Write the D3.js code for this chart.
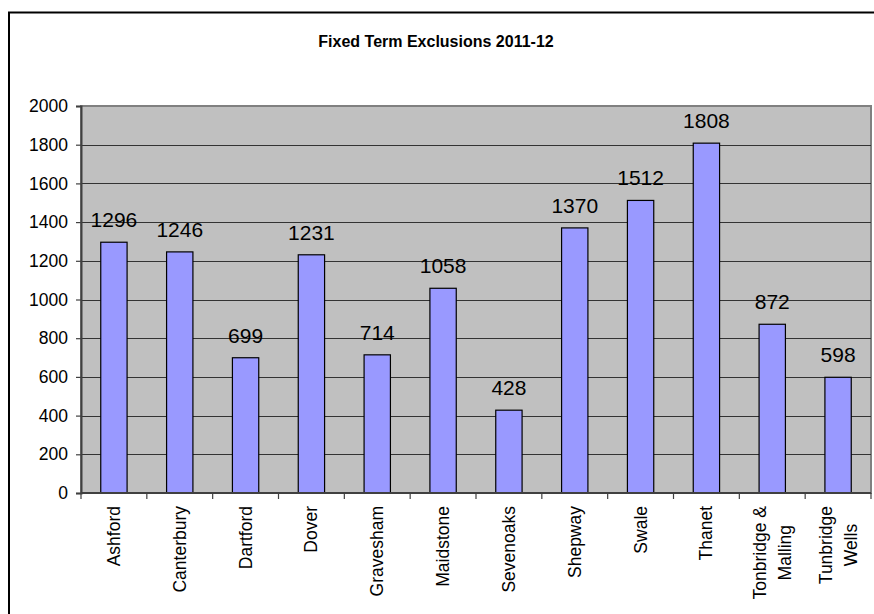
<!DOCTYPE html>
<html>
<head>
<meta charset="utf-8">
<script src="https://cdn.jsdelivr.net/npm/d3@7"></script>
<style>
  html, body { margin: 0; padding: 0; background: #fff; }
  svg { display: block; font-family: "Liberation Sans", Arial, sans-serif; }
</style>
</head>
<body>
<svg id="chart" width="874" height="614"></svg>
<script>
const title = "Fixed Term Exclusions 2011-12";
const categories = ["Ashford", "Canterbury", "Dartford", "Dover", "Gravesham", "Maidstone",
  "Sevenoaks", "Shepway", "Swale", "Thanet", "Tonbridge & Malling", "Tunbridge Wells"];
const categoryLines = [["Ashford"], ["Canterbury"], ["Dartford"], ["Dover"], ["Gravesham"], ["Maidstone"],
  ["Sevenoaks"], ["Shepway"], ["Swale"], ["Thanet"], ["Tonbridge &", "Malling"], ["Tunbridge", "Wells"]];
const values = [1296, 1246, 699, 1231, 714, 1058, 428, 1370, 1512, 1808, 872, 598];
const yTicks = [0, 200, 400, 600, 800, 1000, 1200, 1400, 1600, 1800, 2000];

const svg = d3.select("#chart");
const plot = { left: 81, right: 871, top: 106, bottom: 493 };

// outer frame
svg.append("rect").attr("x", 9).attr("y", 12.5).attr("width", 920).attr("height", 700)
  .attr("fill", "#fff").attr("stroke", "#000").attr("stroke-width", 2);

svg.append("text").attr("x", 436).attr("y", 47).attr("text-anchor", "middle")
  .attr("font-size", 16).attr("font-weight", "bold").text(title);

const x = d3.scaleBand().domain(categories).range([plot.left, plot.right]).paddingInner(0).paddingOuter(0);
const y = d3.scaleLinear().domain([0, 2000]).range([plot.bottom, plot.top]);

// plot background
svg.append("rect").attr("x", plot.left).attr("y", plot.top)
  .attr("width", plot.right - plot.left).attr("height", plot.bottom - plot.top)
  .attr("fill", "#c0c0c0").attr("stroke", "#808080").attr("stroke-width", 2);

// gridlines
svg.append("g").selectAll("line").data(yTicks.filter(d => d > 0 && d < 2000)).join("line")
  .attr("x1", plot.left).attr("x2", plot.right)
  .attr("y1", d => Math.round(y(d)) + 0.5).attr("y2", d => Math.round(y(d)) + 0.5)
  .attr("stroke", "#333").attr("stroke-width", 1);

// bars
const barW = x.bandwidth() * 0.4;
svg.append("g").selectAll("rect").data(values).join("rect")
  .attr("x", (d, i) => x(categories[i]) + (x.bandwidth() - barW) / 2)
  .attr("y", d => y(d))
  .attr("width", barW)
  .attr("height", d => y(0) - y(d))
  .attr("fill", "#9999ff").attr("stroke", "#000").attr("stroke-width", 1.2);

// data labels
svg.append("g").selectAll("text").data(values).join("text")
  .attr("x", (d, i) => x(categories[i]) + x.bandwidth() / 2)
  .attr("y", d => y(d) - 15)
  .attr("text-anchor", "middle").attr("font-size", 21).attr("fill", "#000")
  .text(d => d);

// y axis
const yAxis = d3.axisLeft(y).tickValues(yTicks).tickSize(5).tickPadding(8).tickFormat(d3.format("d"));
const gy = svg.append("g").attr("transform", `translate(${plot.left},0)`).call(yAxis);
gy.select(".domain").attr("stroke", "#404040").attr("stroke-width", 2);
gy.selectAll(".tick line").attr("stroke", "#404040").attr("stroke-width", 1.2);
gy.selectAll(".tick text").attr("font-size", 17.5).attr("font-family", "Liberation Sans, Arial, sans-serif").attr("fill", "#000");

// x axis (ticks at band boundaries)
const xb = svg.append("g");
xb.append("line").attr("x1", plot.left).attr("x2", plot.right).attr("y1", plot.bottom).attr("y2", plot.bottom)
  .attr("stroke", "#404040").attr("stroke-width", 2);
const boundaries = categories.map(c => x(c)).concat([plot.right]);
xb.selectAll("line.tk").data(boundaries).join("line").attr("class", "tk")
  .attr("x1", d => d).attr("x2", d => d).attr("y1", plot.bottom).attr("y2", plot.bottom + 6)
  .attr("stroke", "#404040").attr("stroke-width", 1.2);

// x labels rotated
const lineH = 25;
categoryLines.forEach((lines, i) => {
  const cx = x(categories[i]) + x.bandwidth() / 2;
  const g = svg.append("g");
  const texts = lines.map((ln, j) => g.append("text").attr("font-size", 17.5).attr("fill", "#000")
    .attr("text-anchor", "middle").text(ln));
  const maxLen = d3.max(texts, t => t.node().getComputedTextLength());
  const n = lines.length;
  texts.forEach((t, j) => {
    const off = (j - (n - 1) / 2) * lineH;
    const ty = 506 + maxLen / 2;
    const tx = cx + off + 6;
    t.attr("transform", `translate(${tx},${ty}) rotate(-90)`);
  });
});
</script>
</body>
</html>
